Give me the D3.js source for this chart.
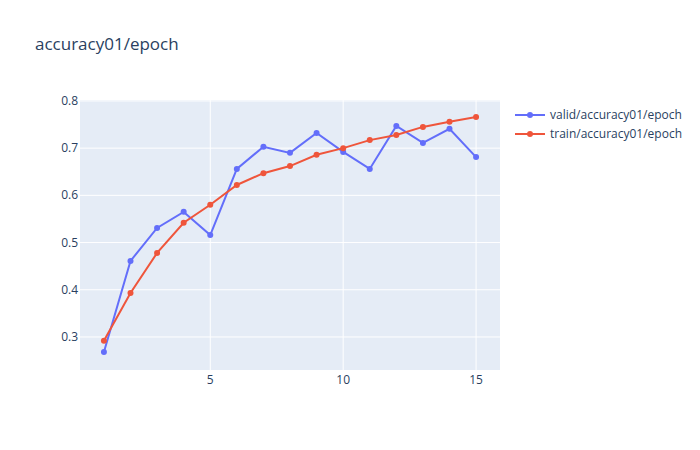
<!DOCTYPE html>
<html>
<head>
<meta charset="utf-8" />
<script src="https://d3js.org/d3.v7.min.js"></script>
<style>
  html, body { margin: 0; padding: 0; background: #fff; }
  text { font-family: "Open Sans", Verdana, Arial, sans-serif; fill: #2a3f5f; }
</style>
</head>
<body>
<svg id="chart" width="700" height="450"></svg>
<script>
var epochs = [1,2,3,4,5,6,7,8,9,10,11,12,13,14,15];
var validAcc = [0.268,0.461,0.531,0.565,0.516,0.656,0.703,0.690,0.732,0.692,0.656,0.747,0.711,0.741,0.681];
var trainAcc = [0.292,0.393,0.478,0.542,0.580,0.622,0.647,0.662,0.686,0.700,0.717,0.728,0.745,0.756,0.766];
var xTicks = [5,10,15];
var yTicks = [0.3,0.4,0.5,0.6,0.7,0.8];
var seriesNames = ['valid/accuracy01/epoch','train/accuracy01/epoch'];
var colors = ['#636efa','#ef553b'];

var svg = d3.select('#chart');
var m = {l: 80, t: 100, r: 200, b: 80};
var w = 700 - m.l - m.r, h = 450 - m.t - m.b;

svg.append('text').attr('x', 35).attr('y', 50).style('font-size', '17px').text('accuracy01/epoch');

var g = svg.append('g').attr('transform', 'translate(' + m.l + ',' + m.t + ')');
g.append('rect').attr('width', w).attr('height', h).attr('fill', '#e5ecf6');

var x = d3.scaleLinear().domain([0.1, 15.9]).range([0, w]);
var y = d3.scaleLinear().domain([0.23, 0.802]).range([h, 0]);

g.selectAll('.gx').data(xTicks).enter().append('line')
  .attr('x1', d => x(d)).attr('x2', d => x(d)).attr('y1', 0).attr('y2', h)
  .attr('stroke', '#fff').attr('stroke-width', 1);
g.selectAll('.gy').data(yTicks).enter().append('line')
  .attr('y1', d => y(d)).attr('y2', d => y(d)).attr('x1', 0).attr('x2', w)
  .attr('stroke', '#fff').attr('stroke-width', 1);

g.selectAll('.tx').data(xTicks).enter().append('text')
  .attr('x', d => x(d)).attr('y', h + 14).attr('text-anchor', 'middle')
  .style('font-size', '12px').text(d => d);
g.selectAll('.ty').data(yTicks).enter().append('text')
  .attr('x', -2).attr('y', d => y(d) + 4).attr('text-anchor', 'end')
  .style('font-size', '12px').text(d => d.toFixed(1));

var line = d3.line().x((d, i) => x(epochs[i])).y(d => y(d));
[validAcc, trainAcc].forEach(function(s, k) {
  g.append('path').datum(s).attr('d', line).attr('fill', 'none')
    .attr('stroke', colors[k]).attr('stroke-width', 2);
  g.selectAll('.p' + k).data(s).enter().append('circle')
    .attr('cx', (d, i) => x(epochs[i])).attr('cy', d => y(d)).attr('r', 3)
    .attr('fill', colors[k]);
});

var leg = svg.append('g').attr('transform', 'translate(515,115)');
seriesNames.forEach(function(n, k) {
  var r = leg.append('g').attr('transform', 'translate(0,' + (k * 19) + ')');
  r.append('line').attr('x1', 0).attr('x2', 30).attr('stroke', colors[k]).attr('stroke-width', 2);
  r.append('circle').attr('cx', 15).attr('r', 3).attr('fill', colors[k]);
  r.append('text').attr('x', 35).attr('y', 4).style('font-size', '12px').text(n);
});
</script>
</body>
</html>
